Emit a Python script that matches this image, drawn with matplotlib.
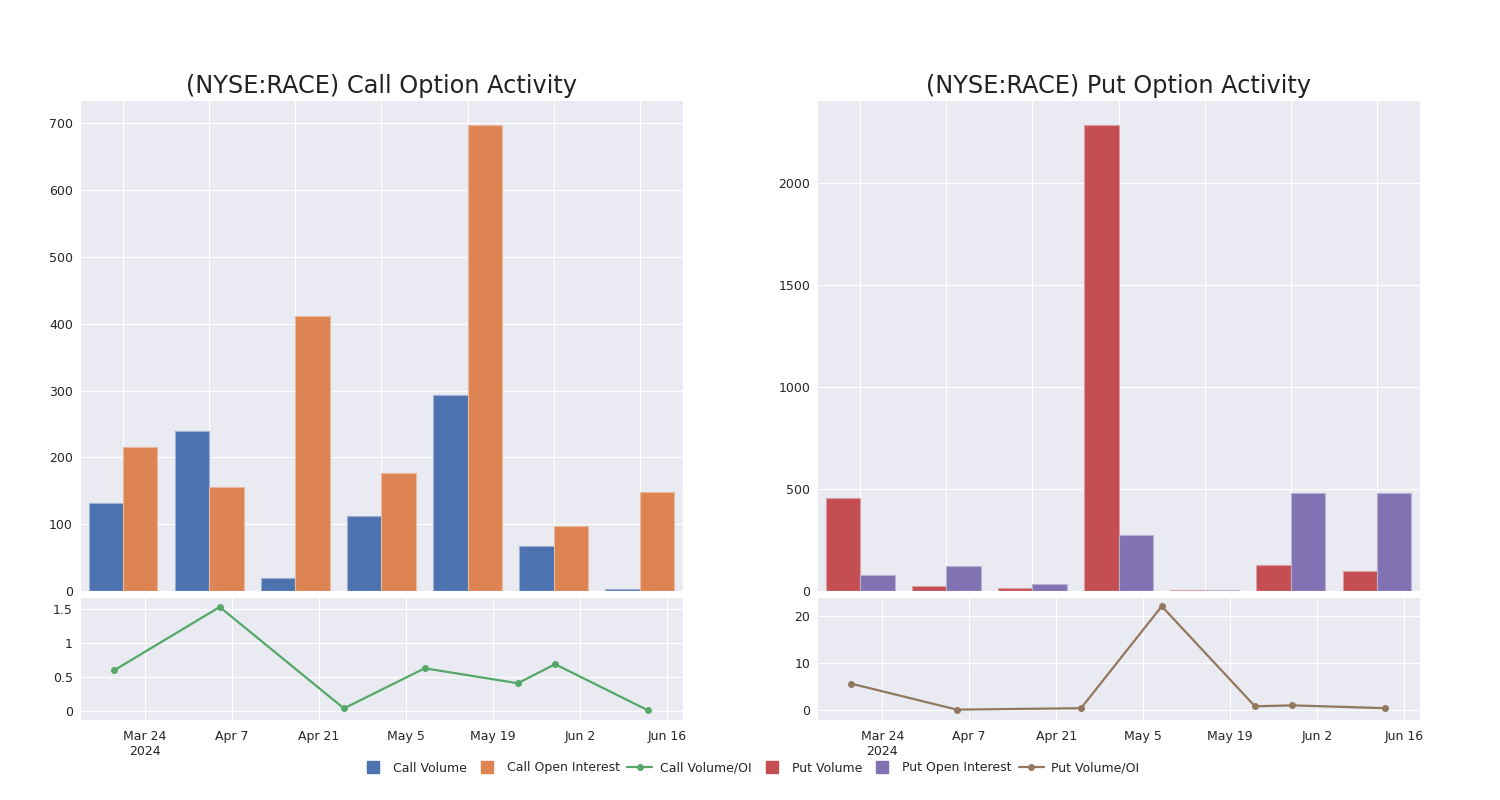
import matplotlib.pyplot as plt
import matplotlib.dates as mdates
from matplotlib.lines import Line2D
import numpy as np
import seaborn as sns
import datetime as dt

sns.set_style("darkgrid")
plt.rcParams['font.family'] = ['DejaVu Sans']

# data
call_volume = [132, 239, 19, 113, 293, 68, 3]
call_oi = [215, 155, 411, 177, 698, 98, 148]
put_volume = [456, 25, 13, 2285, 6, 129, 98]
put_oi = [80, 124, 33, 275, 6, 480, 483]

ratio_dates = ["2024-03-19", "2024-04-05", "2024-04-25", "2024-05-08",
               "2024-05-23", "2024-05-29", "2024-06-13"]
call_ratio = [0.60, 1.53, 0.04, 0.63, 0.41, 0.69, 0.01]
put_ratio = [5.6, 0.1, 0.4, 22.0, 0.8, 1.0, 0.4]

tick_dates = ["2024-03-24", "2024-04-07", "2024-04-21", "2024-05-05",
              "2024-05-19", "2024-06-02", "2024-06-16"]
tick_labels = ["Mar 24\n2024", "Apr 7", "Apr 21", "May 5", "May 19", "Jun 2", "Jun 16"]

c_blue, c_orange, c_green = "#4C72B0", "#DD8452", "#55A868"
c_red, c_purple, c_brown = "#C44E52", "#8172B3", "#937860"

fig = plt.figure(figsize=(15, 8), dpi=100)

dates = [dt.datetime.strptime(d, "%Y-%m-%d") for d in ratio_dates]
tdates = [dt.datetime.strptime(d, "%Y-%m-%d") for d in tick_dates]
xmin = dt.datetime(2024, 3, 13, 12)
xmax = dt.datetime(2024, 6, 18, 14)


def panel(x0, title, vol, oi, cv, co, ratio, cr, ylim_top, yticks, ylim_bot, yticks_bot):
    ax = fig.add_axes([x0, 0.26125, 0.402, 0.61375])
    x = np.arange(len(vol))
    for vals, off, col in ((vol, -0.2, cv), (oi, 0.2, co)):
        bars = ax.bar(x + off, vals, width=0.4, color=col, linewidth=0.8)
        for b in bars:
            b.set_edgecolor(sns.light_palette(col, 3)[1])
    ax.set_xlim(-0.5, len(vol) - 0.5)
    ax.set_xticks(x)
    ax.set_xticklabels([])
    ax.set_ylim(0, ylim_top)
    ax.set_yticks(yticks)
    ax.tick_params(axis="y", labelsize=9, pad=1.5)
    ax.set_title(title, fontsize=17.3, pad=5, color="#222222")

    bx = fig.add_axes([x0, 0.1, 0.402, 0.154])
    bx.plot(dates, ratio, color=cr, marker="o", markersize=4, linewidth=1.6)
    bx.set_xlim(xmin, xmax)
    bx.set_ylim(*ylim_bot)
    bx.set_yticks(yticks_bot)
    bx.set_yticklabels(["{:g}".format(v) for v in yticks_bot])
    bx.set_xticks(mdates.date2num(tdates))
    bx.set_xticklabels(tick_labels)
    bx.tick_params(labelsize=9)
    bx.tick_params(axis="y", pad=1.5)
    return ax, bx


panel(0.0533, "(NYSE:RACE) Call Option Activity", call_volume, call_oi,
      c_blue, c_orange, call_ratio, c_green, 735, [0, 100, 200, 300, 400, 500, 600, 700],
      (-0.13, 1.68), [0, 0.5, 1, 1.5])
panel(0.5447, "(NYSE:RACE) Put Option Activity", put_volume, put_oi,
      c_red, c_purple, put_ratio, c_brown, 2408, [0, 500, 1000, 1500, 2000],
      (-2.1, 24.0), [0, 10, 20])

handles = [
    Line2D([], [], color=c_blue, marker="s", linestyle="none", markersize=8),
    Line2D([], [], color=c_orange, marker="s", linestyle="none", markersize=8),
    Line2D([], [], color=c_green, marker="o", markersize=4, linewidth=1.6),
    Line2D([], [], color=c_red, marker="s", linestyle="none", markersize=8),
    Line2D([], [], color=c_purple, marker="s", linestyle="none", markersize=8),
    Line2D([], [], color=c_brown, marker="o", markersize=4, linewidth=1.6),
]
labels = ["Call Volume", "Call Open Interest", "Call Volume/OI",
          "Put Volume", "Put Open Interest", "Put Volume/OI"]
fig.legend(handles, labels, loc="center", bbox_to_anchor=(0.5, 0.04), ncol=6,
           frameon=False, fontsize=9, handlelength=2.0, handletextpad=0.6,
           columnspacing=0.6)

fig.savefig("out.png", dpi=100)
